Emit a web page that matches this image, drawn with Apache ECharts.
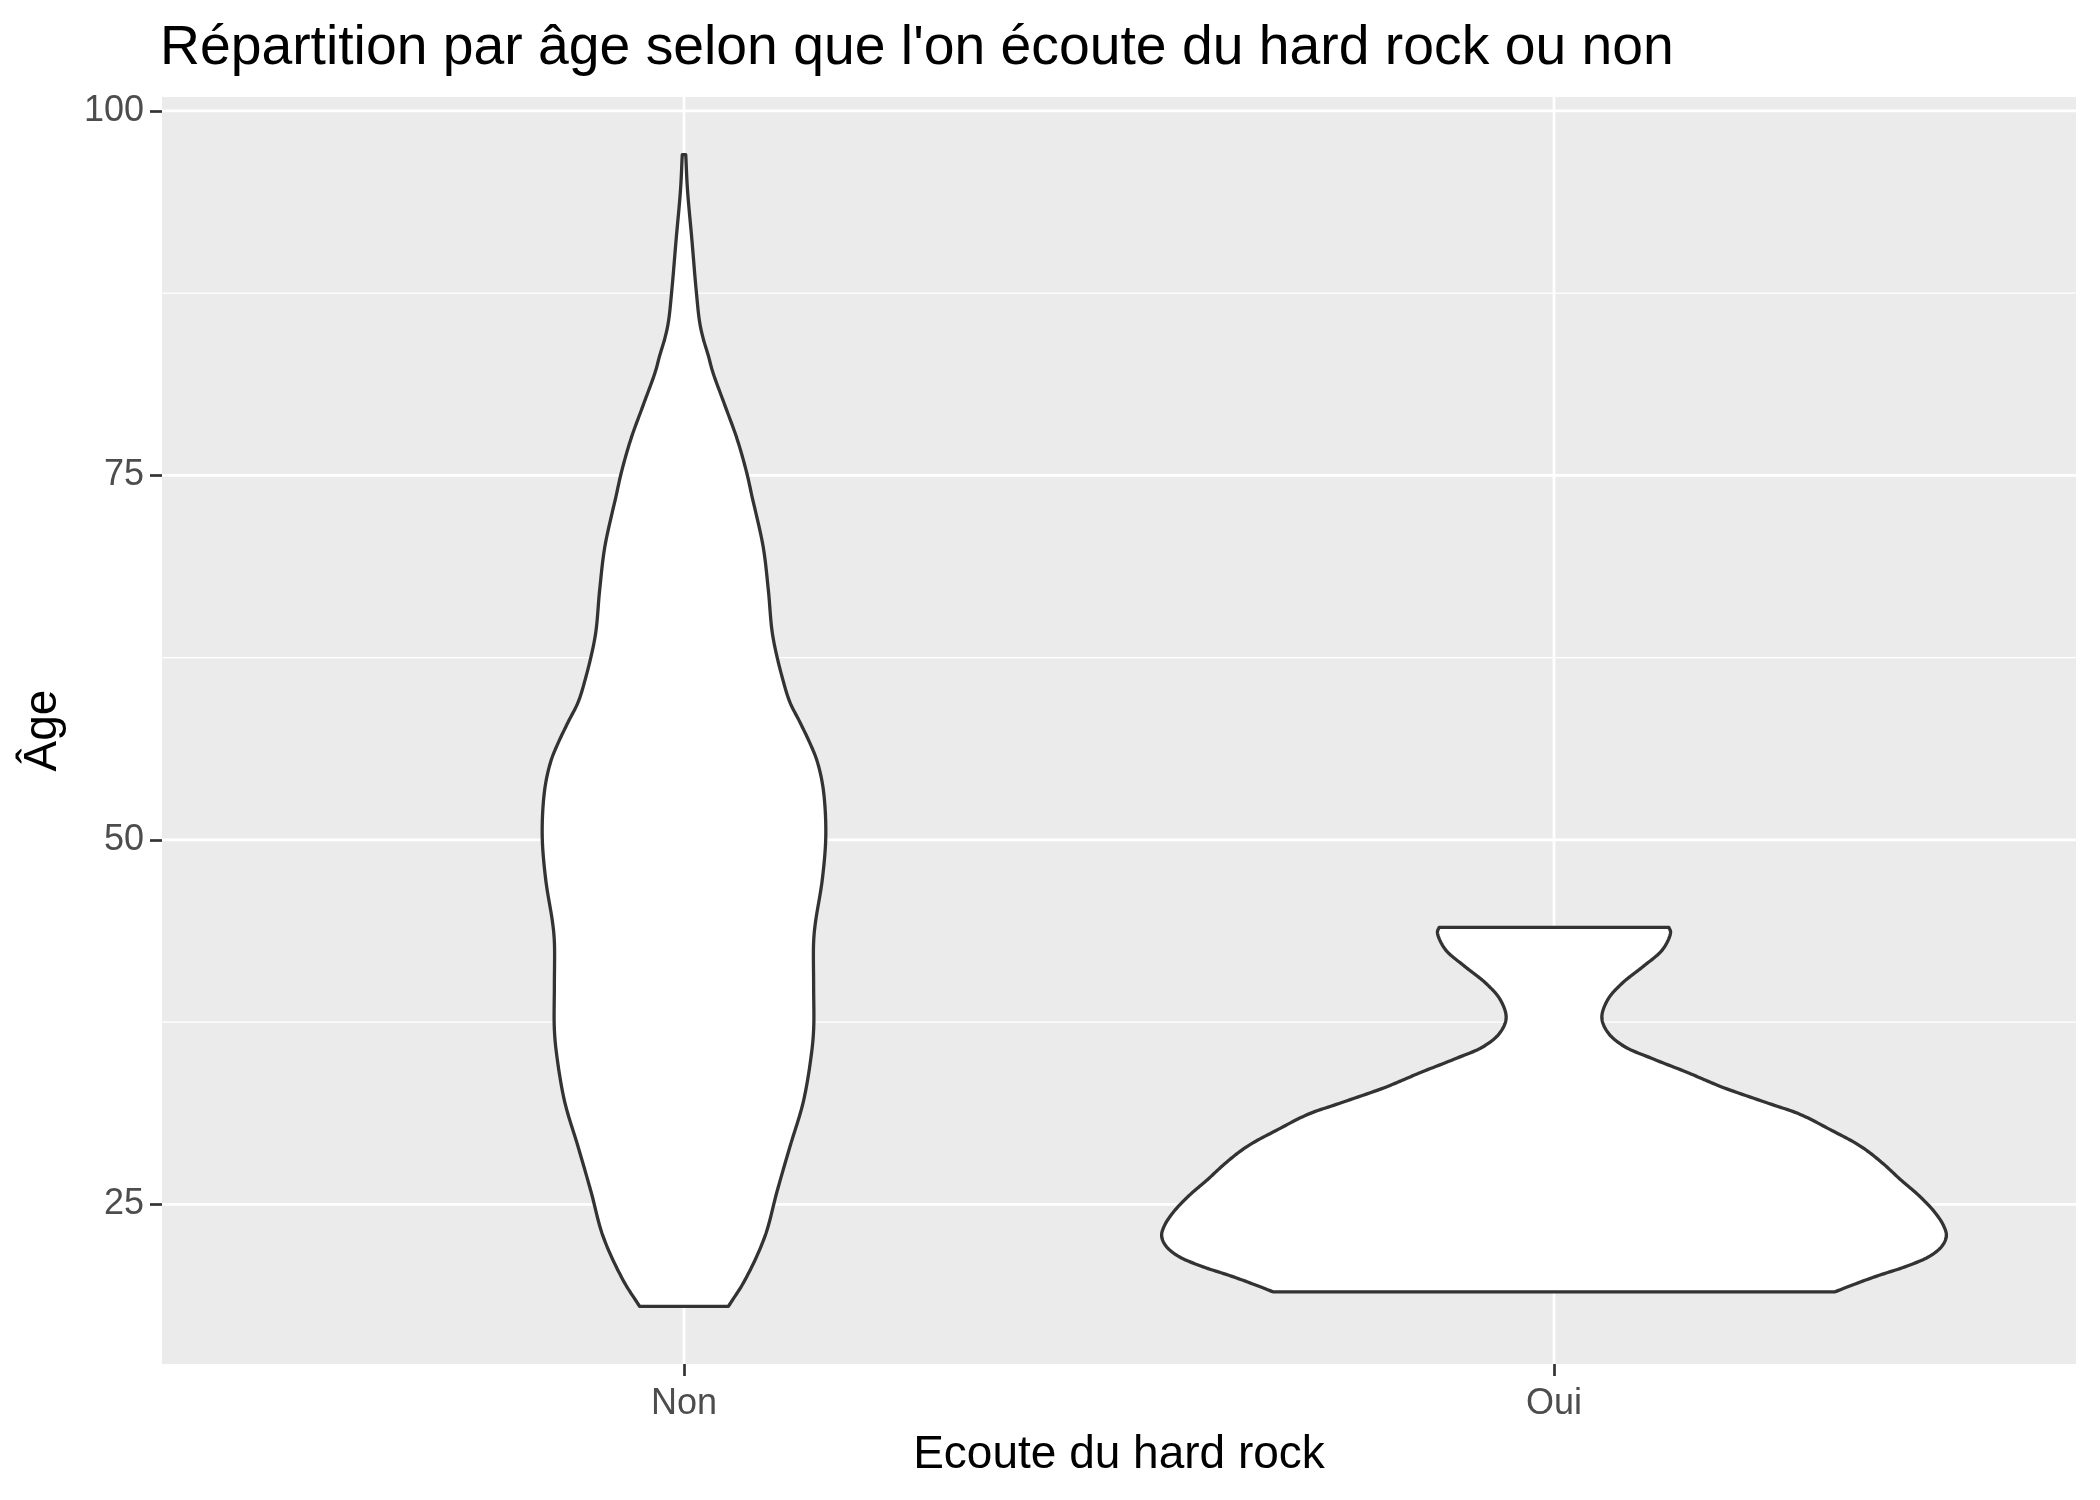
<!DOCTYPE html>
<html>
<head>
<meta charset="utf-8">
<script src="https://cdn.jsdelivr.net/npm/echarts@6/dist/echarts.min.js"></script>
<style>
html,body{margin:0;padding:0;background:#fff;}
#chart{width:2100px;height:1500px;}
</style>
</head>
<body>
<div id="chart"></div>
<script>
// ---- data ----
const categories = ['Non', 'Oui'];
const categoryPositions = [1, 2];
const yTicks = [25, 50, 75, 100];
const yMinorGrid = [37.5, 62.5, 87.5];

// violin outlines: age and half-width (in category units)
const nonAge = [18, 19.8, 22.8, 25.9, 29.0, 32.0, 35.1, 37, 40, 43, 44.3, 47.3, 50.4, 53.5, 55.4, 56.6, 58.1, 59.4, 60.9, 64.0, 67.1, 70.1, 73.6, 75.2, 77.5, 79.8, 82.1, 83.2, 84.4, 85.5, 87.7, 91.2, 94.6, 97];
const nonHalfWidth = [0.051, 0.070, 0.093, 0.107, 0.122, 0.137, 0.146, 0.149, 0.149, 0.149, 0.151, 0.159, 0.163, 0.160, 0.153, 0.145, 0.133, 0.122, 0.114, 0.102, 0.097, 0.091, 0.078, 0.072, 0.061, 0.047, 0.033, 0.028, 0.022, 0.018, 0.014, 0.009, 0.004, 0.002];

const ouiAge = [19.0, 19.4, 20.08, 20.77, 21.45, 22.14, 22.83, 23.51, 24.43, 25.57, 26.71, 27.86, 29.0, 30.14, 31.17, 31.92, 33.0, 33.57, 34.03, 34.95, 35.86, 36.78, 37.8, 39.06, 40.2, 41.34, 42.49, 43.65, 44.0];
const ouiHalfWidth = [0.323, 0.340, 0.371, 0.406, 0.432, 0.446, 0.451, 0.448, 0.438, 0.420, 0.398, 0.377, 0.352, 0.317, 0.283, 0.247, 0.195, 0.172, 0.154, 0.115, 0.080, 0.062, 0.055, 0.062, 0.079, 0.103, 0.125, 0.134, 0.132];

const groups = [
  {name: categories[0], x: categoryPositions[0], age: nonAge, half: nonHalfWidth},
  {name: categories[1], x: categoryPositions[1], age: ouiAge, half: ouiHalfWidth}
];

// ---- chart ----
const Y_MIN = 14.05, Y_MAX = 100.95;
const X_MIN = 0.4, X_MAX = 2.6;

// centripetal Catmull-Rom smoothing of pixel outline (rendering only)
function smoothOutline(pts, steps) {
  const n = pts.length;
  if (n < 3) return pts.slice();
  const P = [[2 * pts[0][0] - pts[1][0], 2 * pts[0][1] - pts[1][1]]].concat(pts, [[2 * pts[n - 1][0] - pts[n - 2][0], 2 * pts[n - 1][1] - pts[n - 2][1]]]);
  const d = (a, b) => Math.max(Math.sqrt(Math.hypot(b[0] - a[0], b[1] - a[1])), 1e-4);
  const lerp = (a, b, ta, tb, t) => {
    const w = (t - ta) / (tb - ta);
    return [a[0] + (b[0] - a[0]) * w, a[1] + (b[1] - a[1]) * w];
  };
  const out = [];
  for (let i = 1; i < P.length - 2; i++) {
    const p0 = P[i - 1], p1 = P[i], p2 = P[i + 1], p3 = P[i + 2];
    const t0 = 0, t1 = t0 + d(p0, p1), t2 = t1 + d(p1, p2), t3 = t2 + d(p2, p3);
    for (let s = 0; s < steps; s++) {
      const t = t1 + (t2 - t1) * s / steps;
      const A1 = lerp(p0, p1, t0, t1, t), A2 = lerp(p1, p2, t1, t2, t), A3 = lerp(p2, p3, t2, t3, t);
      const B1 = lerp(A1, A2, t0, t2, t), B2 = lerp(A2, A3, t1, t3, t);
      out.push(lerp(B1, B2, t1, t2, t));
    }
  }
  out.push(pts[n - 1]);
  return out;
}

const chart = echarts.init(document.getElementById('chart'), null, {renderer: 'canvas'});
const FONT = 'Liberation Sans, Arial, sans-serif';

const option = {
  backgroundColor: '#ffffff',
  animation: false,
  title: {
    text: "Répartition par âge selon que l'on écoute du hard rock ou non",
    left: 155,
    top: 16,
    textStyle: {fontFamily: FONT, fontSize: 55.3, fontWeight: 'normal', color: '#000000'}
  },
  grid: {
    left: 162, right: 24, top: 97, bottom: 136,
    show: true, backgroundColor: '#EBEBEB', borderWidth: 0
  },
  xAxis: {
    type: 'value', min: X_MIN, max: X_MAX,
    name: 'Ecoute du hard rock', nameLocation: 'middle', nameGap: 68,
    nameTextStyle: {fontFamily: FONT, fontSize: 46, color: '#000000'},
    axisLine: {show: false},
    axisTick: {show: true, customValues: categoryPositions, length: 12, lineStyle: {color: '#333333', width: 2.7}},
    axisLabel: {
      customValues: categoryPositions, margin: 22,
      fontFamily: FONT, fontSize: 36, color: '#4D4D4D',
      formatter: v => categories[categoryPositions.indexOf(Math.round(v))] || ''
    },
    splitLine: {show: false}
  },
  yAxis: {
    type: 'value', min: Y_MIN, max: Y_MAX,
    name: 'Âge', nameLocation: 'middle', nameGap: 96, nameRotate: 90,
    nameTextStyle: {fontFamily: FONT, fontSize: 46, color: '#000000'},
    axisLine: {show: false},
    axisTick: {show: true, customValues: yTicks, length: 12, lineStyle: {color: '#333333', width: 2.7}},
    axisLabel: {customValues: yTicks, margin: 18, fontFamily: FONT, fontSize: 36, color: '#4D4D4D'},
    splitLine: {show: false}
  },
  series: [
    {
      type: 'custom', silent: true, z: 1,
      data: yMinorGrid.map(v => [1.5, v]),
      renderItem: (params, api) => {
        const y = api.coord([1.5, api.value(1)])[1];
        const cs = params.coordSys;
        return {type: 'line', shape: {x1: cs.x, y1: y, x2: cs.x + cs.width, y2: y}, style: {stroke: '#ffffff', lineWidth: 1.4}};
      }
    },
    {
      type: 'custom', silent: true, z: 1,
      data: yTicks.map(v => [1.5, v]),
      renderItem: (params, api) => {
        const y = api.coord([1.5, api.value(1)])[1];
        const cs = params.coordSys;
        return {type: 'line', shape: {x1: cs.x, y1: y, x2: cs.x + cs.width, y2: y}, style: {stroke: '#ffffff', lineWidth: 2.7}};
      }
    },
    {
      type: 'custom', silent: true, z: 1,
      data: categoryPositions.map(v => [v, 50]),
      renderItem: (params, api) => {
        const x = api.coord([api.value(0), 50])[0];
        const cs = params.coordSys;
        return {type: 'line', shape: {x1: x, y1: cs.y, x2: x, y2: cs.y + cs.height}, style: {stroke: '#ffffff', lineWidth: 2.7}};
      }
    },
    {
      type: 'custom', z: 5,
      data: groups.map(g => [g.x, Math.min(...g.age), Math.max(...g.age)]),
      renderItem: (params, api) => {
        const g = groups[params.dataIndex];
        const cx = api.value(0);
        const right = g.age.map((a, k) => api.coord([cx + g.half[k], a]));
        const left = g.age.map((a, k) => api.coord([cx - g.half[k], a]));
        const R = smoothOutline(right, 12);
        const L = smoothOutline(left, 12).reverse();
        return {
          type: 'polygon',
          shape: {points: R.concat(L)},
          style: {fill: '#ffffff', stroke: '#333333', lineWidth: 3.3, lineJoin: 'round'}
        };
      }
    }
  ]
};
chart.setOption(option);
</script>
</body>
</html>
